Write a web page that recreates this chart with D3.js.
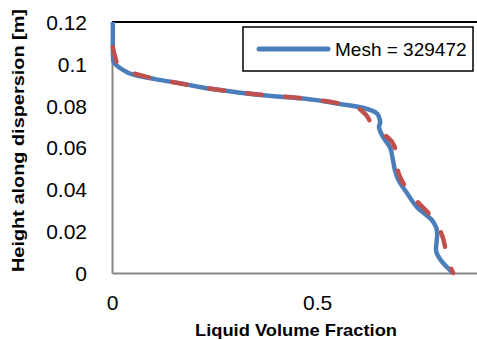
<!DOCTYPE html>
<html>
<head>
<meta charset="utf-8">
<script src="https://cdn.jsdelivr.net/npm/d3@7"></script>
<style>
  html, body { margin: 0; padding: 0; background: #fff; }
  #chart { width: 477px; height: 340px; }
  text { font-family: "Liberation Sans", Arial, sans-serif; fill: #000; }
</style>
</head>
<body>
<div id="chart"></div>
<script>
// Mesh = 329472 (blue solid)
const meshFraction = [0.002, 0.002, 0.003, 0.01, 0.02, 0.056, 0.105, 0.178, 0.227, 0.30, 0.368, 0.476, 0.556, 0.60, 0.629, 0.649, 0.654, 0.651, 0.661, 0.678, 0.685, 0.69, 0.697, 0.72, 0.746, 0.78, 0.793, 0.790, 0.805, 0.832];
const meshHeight   = [0.12, 0.110, 0.1015, 0.0995, 0.098, 0.0946, 0.0927, 0.0903, 0.0884, 0.0865, 0.085, 0.0832, 0.0808, 0.0795, 0.078, 0.0755, 0.072, 0.070, 0.065, 0.060, 0.054, 0.049, 0.045, 0.038, 0.031, 0.0253, 0.019, 0.011, 0.0053, 0.0];

// second series (red dashed, no legend entry)
const refFraction = [0.002, 0.008, 0.015, 0.03, 0.08, 0.15, 0.25, 0.35, 0.45, 0.55, 0.59, 0.615, 0.63, 0.66, 0.685, 0.695, 0.697, 0.71, 0.74, 0.77, 0.79, 0.805, 0.815, 0.825, 0.832];
const refHeight   = [0.108, 0.103, 0.0995, 0.097, 0.094, 0.0912, 0.0878, 0.0855, 0.0838, 0.0812, 0.0795, 0.0765, 0.0725, 0.067, 0.062, 0.055, 0.049, 0.043, 0.035, 0.029, 0.024, 0.018, 0.010, 0.003, 0.0];

const xTicks = [0, 0.5];
const yTicks = [0, 0.02, 0.04, 0.06, 0.08, 0.1, 0.12];
const legendLabel = 'Mesh = 329472';

const W = 477, H = 340;
const plot = { left: 112, right: 477, top: 22, bottom: 273 };

const svg = d3.select('#chart').append('svg')
  .attr('width', W).attr('height', H);

const x = d3.scaleLinear().domain([0, 0.89]).range([plot.left, plot.right]);
const y = d3.scaleLinear().domain([0, 0.12]).range([plot.bottom, plot.top]);

// top border line
svg.append('line')
  .attr('x1', plot.left).attr('x2', plot.right)
  .attr('y1', y(0.12)).attr('y2', y(0.12))
  .attr('stroke', '#000').attr('stroke-width', 2);

// axes (no tick marks)
const yAxis = svg.append('g')
  .attr('transform', `translate(${plot.left},0)`)
  .call(d3.axisLeft(y).tickValues(yTicks).tickSize(0).tickPadding(25)
    .tickFormat(d => d3.format('')(+d.toFixed(2))));
yAxis.select('.domain').attr('stroke', '#868686').attr('stroke-width', 2);
yAxis.selectAll('text')
  .attr('font-size', 21).attr('font-family', '"Liberation Sans", Arial, sans-serif')
  .attr('dy', '0.35em');

const xAxis = svg.append('g')
  .attr('transform', `translate(0,${plot.bottom})`)
  .call(d3.axisBottom(x).tickValues(xTicks).tickSize(0).tickPadding(22)
    .tickFormat(d => String(d)));
xAxis.select('.domain').attr('stroke', '#868686').attr('stroke-width', 2);
xAxis.selectAll('text')
  .attr('font-size', 21).attr('font-family', '"Liberation Sans", Arial, sans-serif');

// axis titles
svg.append('text')
  .attr('x', 296).attr('y', 336)
  .attr('text-anchor', 'middle')
  .attr('font-size', 17).attr('font-weight', 'bold')
  .attr('textLength', 202).attr('lengthAdjust', 'spacingAndGlyphs')
  .text('Liquid Volume Fraction');

svg.append('text')
  .attr('transform', `translate(24,${(plot.top + plot.bottom) / 2 - 7}) rotate(-90)`)
  .attr('text-anchor', 'middle')
  .attr('font-size', 17).attr('font-weight', 'bold')
  .attr('textLength', 263).attr('lengthAdjust', 'spacingAndGlyphs')
  .text('Height along dispersion [m]');

// lines
const line = d3.line()
  .x(d => x(d[0]))
  .y(d => y(d[1]))
  .curve(d3.curveMonotoneY);

const meshPts = meshFraction.map((v, i) => [v, meshHeight[i]]);
const refPts = refFraction.map((v, i) => [v, refHeight[i]]);

svg.append('path')
  .datum(meshPts)
  .attr('d', line)
  .attr('fill', 'none')
  .attr('stroke', '#4a7ebb')
  .attr('stroke-width', 4.5)
  .attr('stroke-linejoin', 'round');

svg.append('path')
  .datum(refPts)
  .attr('d', line)
  .attr('fill', 'none')
  .attr('stroke', '#c0504d')
  .attr('stroke-width', 4.5)
  .attr('stroke-linecap', 'round')
  .attr('stroke-dasharray', '15,23');

// legend
const lg = svg.append('g');
lg.append('rect')
  .attr('x', 243).attr('y', 27).attr('width', 230).attr('height', 44)
  .attr('fill', '#fff').attr('stroke', '#000').attr('stroke-width', 1.5);
lg.append('line')
  .attr('x1', 259).attr('x2', 328).attr('y1', 49).attr('y2', 49)
  .attr('stroke', '#4a7ebb').attr('stroke-width', 5).attr('stroke-linecap', 'round');
lg.append('text')
  .attr('x', 335).attr('y', 49).attr('dy', '0.35em')
  .attr('font-size', 19)
  .text(legendLabel);
</script>
</body>
</html>
